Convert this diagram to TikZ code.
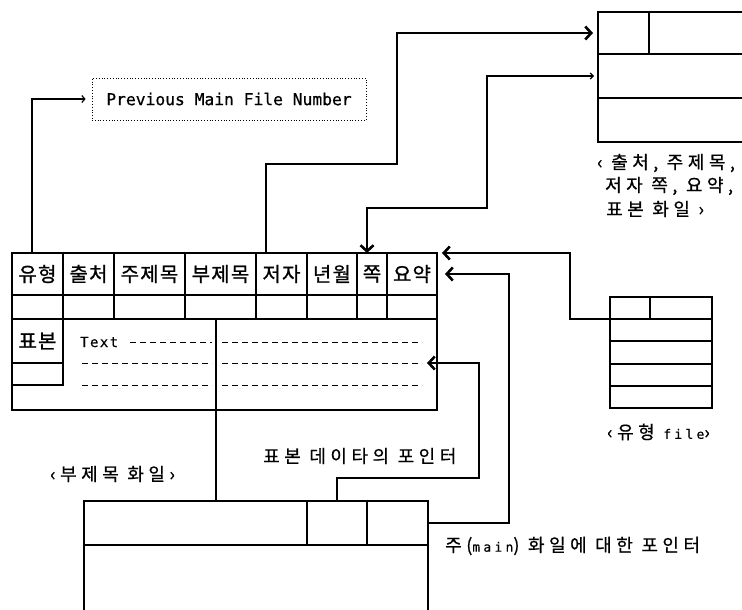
\documentclass[tikz,border=0pt]{standalone}
\usepackage{fontspec}
\usetikzlibrary{arrows.meta}
\newfontfamily\kr{Noto Sans CJK KR}[FakeBold=1,LetterSpace=6]
\newfontfamily\krl{Noto Sans CJK KR}[FakeBold=0.6,LetterSpace=25]
\newfontfamily\mono{DejaVu Sans Mono}[FakeBold=0.6]
\newfontfamily\monos{DejaVu Sans Mono}[FakeBold=0.4,LetterSpace=25]
\newfontfamily\monot{DejaVu Sans Mono}[FakeBold=0.5,LetterSpace=10]
\tikzset{
  ln/.style={line width=1.1pt},
  hdr/.style={font=\kr\fontsize{20}{21}\selectfont, inner sep=0pt},
  lbl/.style={font=\krl\fontsize{18}{19}\selectfont, inner sep=0pt},
  bigtip/.style={-{Straight Barb[length=6pt,width=13pt,line width=2.6pt]}},
  dashrow/.style={line width=0.9pt, dash pattern=on 6pt off 4pt},
}
\begin{document}
\begin{tikzpicture}[x=1pt,y=-1pt]
\useasboundingbox (0,0) rectangle (742,610);
% ---------- main table ----------
\draw[ln] (12,253) rectangle (437,410);
\draw[ln] (12,295) -- (437,295);
\draw[ln] (12,319) -- (437,319);
\foreach \x in {63,114,185,256,307,357,387} \draw[ln] (\x,253) -- (\x,319);
\node[hdr] (h1) at (37.5,274) {유형};
\node[hdr] (h2) at (88.5,274) {출처};
\node[hdr] (h3) at (149.5,274) {주제목};
\node[hdr] (h4) at (220.5,274) {부제목};
\node[hdr] (h5) at (281.5,274) {저자};
\node[hdr] (h6) at (332,274) {년월};
\node[hdr] (h7) at (372,274) {쪽};
\node[hdr] (h8) at (412,274) {요약};
% lower part
\draw[ln] (63,319) -- (63,385) -- (12,385);
\draw[ln] (12,363) -- (63,363);
\draw[ln] (216,319) -- (216,410);
\node[hdr] (pb) at (37.5,341) {표본};
\node[font=\monot\fontsize{14}{15}\selectfont, inner sep=0pt, anchor=west] (txt) at (80,342) {Text};
\draw[dashrow] (130,342) -- (212,342);
\draw[dashrow] (222,342) -- (422,342);
\foreach \y in {363,385} {
  \draw[dashrow] (82,\y) -- (212,\y);
  \draw[dashrow] (222,\y) -- (422,\y);
}
% ---------- previous main file number ----------
\node[draw, dotted, line width=0.8pt, minimum width=274pt, minimum height=42pt,
      font=\mono\fontsize{16.3}{17}\selectfont, inner sep=0pt] (prev) at (229,99) {Previous Main File Number};
% ---------- top right file ----------
\draw[ln] (742,12) -- (598,12) -- (598,142) -- (742,142);
\draw[ln] (598,54) -- (742,54);
\draw[line width=2pt] (598,98) -- (742,98);
\draw[ln] (649,12) -- (649,54);
\node[lbl, anchor=west] (t1) at (597,163) {‹ 출처, 주제목,};
\node[lbl, anchor=west] (t2) at (605,186) {저자 쪽, 요약,};
\node[lbl, anchor=west] (t3) at (606,209) {표본 화일 ›};
% ---------- type file ----------
\draw[ln] (610,297) rectangle (712,408);
\foreach \y in {319,341,364,386} \draw[ln] (610,\y) -- (712,\y);
\draw[ln] (650,297) -- (650,319);
\node[lbl, anchor=west] (tf) at (607,432) {‹유형 {\monos\fontsize{13}{14}\selectfont file}›};
% ---------- sub-title file ----------
\draw[ln] (84,610) -- (84,501) -- (428,501) -- (428,610);
\draw[ln] (84,545) -- (428,545);
\draw[ln] (307,501) -- (307,545);
\draw[ln] (367,501) -- (367,545);
\node[lbl, anchor=west] (sf) at (50,474) {‹부제목 화일›};
\node[lbl, anchor=west] (sp) at (263,456) {표본 데이타의 포인터};
\node[lbl, anchor=west] (mp) at (445,546) {주({\monos\fontsize{13}{14}\selectfont main}) 화일에 대한 포인터};
% ---------- connection points ----------
\coordinate (cA) at (32,253);
\coordinate (cB) at (266,253);
\coordinate (cB1) at (397,164);
\coordinate (cB2) at (598,33);
\coordinate (cC) at (367,253);
\coordinate (cC1) at (487,208);
\coordinate (cC2) at (598,76);
\coordinate (cD) at (610,319);
\coordinate (cD1) at (570,253);
\coordinate (cD2) at (437,253);
\coordinate (cE) at (428,523);
\coordinate (cE1) at (509,274);
\coordinate (cE2) at (437,274);
\coordinate (cF) at (337,501);
\coordinate (cF1) at (479,478);
\coordinate (cF2) at (427,363);
\coordinate (cG) at (216,410);
\coordinate (cG1) at (216,501);
% ---------- connectors ----------
\draw[ln, -{Straight Barb[length=3pt,width=7pt,line width=1.2pt]}, shorten >=6pt] (cA) |- (prev.west);
\draw[ln, bigtip, shorten >=5pt] (cB) |- (cB1) |- (cB2);
\draw[ln, {Straight Barb[length=6pt,width=13pt,line width=2.6pt]}-{Straight Barb[length=3pt,width=6pt,line width=1.2pt]}, shorten >=4pt] (cC) |- (cC1) |- (cC2);
\draw[ln, bigtip, shorten >=5pt] (cD) -| (cD1) -- (cD2);
\draw[ln, bigtip, shorten >=8pt] (cE) -| (cE1) -- (cE2);
\draw[ln, bigtip] (cF) |- (cF1) |- (cF2);
\draw[ln] (cG) -- (cG1);
\end{tikzpicture}
\end{document}
